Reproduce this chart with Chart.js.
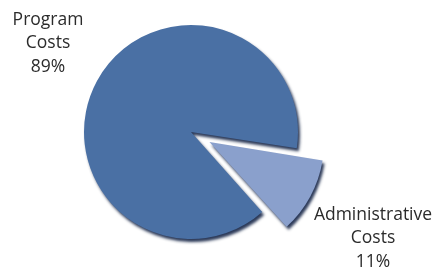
<!DOCTYPE html>
<html>
<head>
<meta charset="utf-8">
<script src="https://cdn.jsdelivr.net/npm/chart.js@4/dist/chart.umd.min.js"></script>
<style>
  html, body { margin: 0; padding: 0; background: #fff; overflow: hidden; }
  /* canvas is a bit taller than the window so the pie can fill the height */
  #wrap { width: 439px; height: 298px; position: absolute; left: 0; top: -17px; }
</style>
</head>
<body>
<div id="wrap"><canvas id="costChart"></canvas></div>
<script>
// chart data
var categories = ['Administrative Costs', 'Program Costs'];
var shares = [11, 89];
var sliceColors = ['#8aa0cc', '#4a70a4'];
var sliceOffsets = [84, 0];

// where the label blocks sit (canvas pixels, first line centre)
var labelSpots = [
    { x: 373, y: 232 },
    { x: 48, y: 37 }
];

// soft dark edge under the slices, like the old 3D look
var bevelShadow = {
    id: 'bevelShadow',
    beforeDatasetsDraw: function (chart) {
        var ctx = chart.ctx;
        ctx.save();
        ctx.shadowColor = 'rgba(20, 35, 70, 0.9)';
        ctx.shadowBlur = 3;
        ctx.shadowOffsetX = 2;
        ctx.shadowOffsetY = 3;
    },
    afterDatasetsDraw: function (chart) {
        chart.ctx.restore();
    }
};

var sliceLabels = {
    id: 'sliceLabels',
    afterDraw: function (chart) {
        var ctx = chart.ctx;
        var data = chart.data.datasets[0].data;
        var total = data.reduce(function (a, b) { return a + b; }, 0);
        ctx.save();
        ctx.fillStyle = '#2b2b2b';
        ctx.font = '17.5px "Open Sans", "DejaVu Sans", sans-serif';
        ctx.textAlign = 'center';
        ctx.textBaseline = 'middle';
        chart.data.labels.forEach(function (label, i) {
            var lines = label.split(' ');
            lines.push(Math.round(data[i] / total * 100) + '%');
            var spot = labelSpots[i];
            lines.forEach(function (line, j) {
                ctx.fillText(line, spot.x, spot.y + j * 23.5);
            });
        });
        ctx.restore();
    }
};

var ctx = document.getElementById('costChart').getContext('2d');
var chart = new Chart(ctx, {
    type: 'pie',
    data: {
        labels: categories,
        datasets: [{
            data: shares,
            backgroundColor: sliceColors,
            offset: sliceOffsets,
            borderWidth: 0
        }]
    },
    options: {
        responsive: true,
        maintainAspectRatio: false,
        animation: false,
        rotation: 98.7,
        layout: {
            padding: { left: 42, right: 99, top: 0, bottom: 0 }
        },
        plugins: {
            legend: { display: false },
            tooltip: { enabled: false }
        }
    },
    plugins: [bevelShadow, sliceLabels]
});
</script>
</body>
</html>
